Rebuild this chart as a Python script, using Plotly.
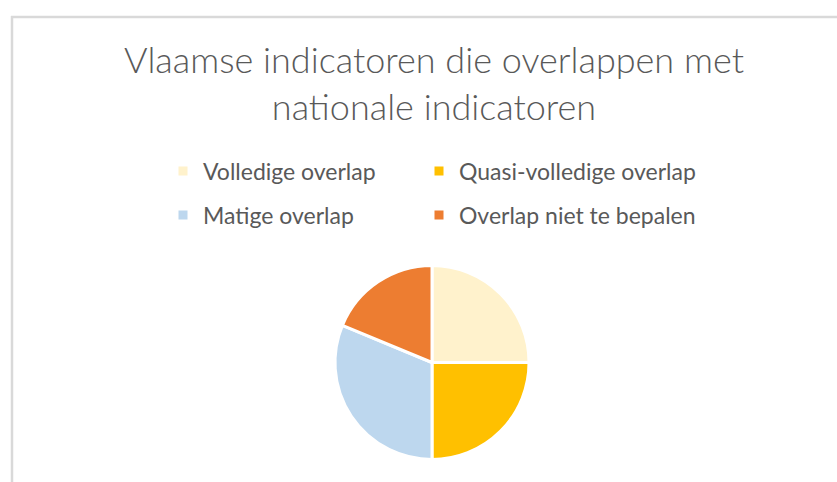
import plotly.graph_objects as go

title_text = "Vlaamse indicatoren die overlappen met<br>nationale indicatoren"
categories = ["Volledige overlap", "Quasi-volledige overlap", "Matige overlap", "Overlap niet te bepalen"]
values = [4, 4, 5, 3]
colors = ["#FFF2CC", "#FFC000", "#BDD7EE", "#ED7D31"]
legend_ids = ["legend", "legend2", "legend3", "legend4"]

W, H = 837, 482
fig = go.Figure()

fig.add_trace(go.Pie(
    labels=categories, values=values, sort=False, direction="clockwise", rotation=0,
    marker=dict(colors=colors, line=dict(color="white", width=3)),
    textinfo="none", hoverinfo="label+value", showlegend=False,
    domain=dict(x=[335 / W, 529 / W], y=[1 - 460 / H, 1 - 265 / H]),
))

for cat, col, lg in zip(categories, colors, legend_ids):
    fig.add_trace(go.Scatter(
        x=[None], y=[None], mode="markers", name=cat, legend=lg,
        marker=dict(symbol="square", size=9, color=col),
        showlegend=True, hoverinfo="skip",
    ))

legend_common = dict(
    orientation="h", xanchor="left", yanchor="middle",
    font=dict(family="Lato, Carlito, sans-serif", size=23, color="#595959"),
    bgcolor="rgba(0,0,0,0)", borderwidth=0, itemclick=False, itemdoubleclick=False,
)
col_x = [163, 419, 163, 419]
row_y = [171, 171, 215, 215]

fig.update_layout(
    width=W, height=H,
    margin=dict(l=0, r=0, t=0, b=0),
    paper_bgcolor="white", plot_bgcolor="white",
    title=dict(
        text=title_text, x=434 / W, xanchor="center", xref="paper",
        y=1 - 73 / H, yanchor="top", yref="paper",
        font=dict(family="Lato, Carlito, sans-serif", size=36, color="#595959", weight=300),
    ),
    xaxis=dict(visible=False), yaxis=dict(visible=False),
    shapes=[
        dict(type="line", xref="paper", yref="paper", x0=11 / W, x1=1, y0=1 - 17 / H, y1=1 - 17 / H,
             line=dict(color="#D9D9D9", width=2.5), layer="above"),
        dict(type="line", xref="paper", yref="paper", x0=12 / W, x1=12 / W, y0=0, y1=1 - 16 / H,
             line=dict(color="#D9D9D9", width=2.5), layer="above"),
    ],
)
for lg, cx, ry in zip(legend_ids, col_x, row_y):
    fig.update_layout({lg: dict(x=cx / W, y=1 - ry / H, **legend_common)})

fig.write_html(
    "out.html",
    config={"displayModeBar": False},
    post_script="document.body.style.margin='0';document.body.style.overflow='hidden';",
)
